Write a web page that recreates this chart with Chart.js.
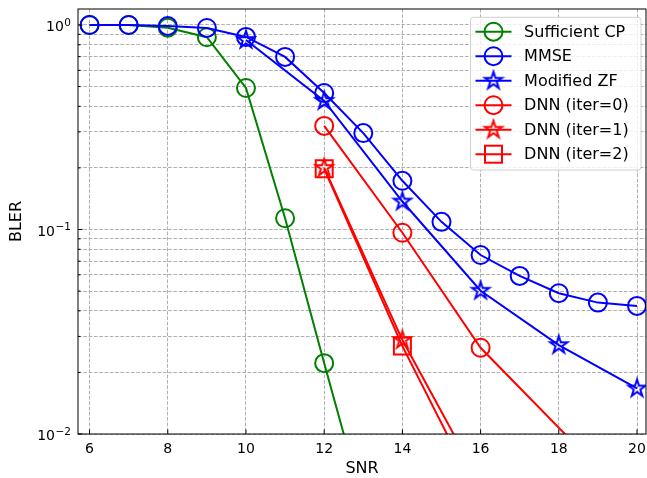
<!DOCTYPE html>
<html>
<head>
<meta charset="utf-8">
<script src="https://cdn.jsdelivr.net/npm/chart.js@4.4.0/dist/chart.umd.min.js"></script>
<style>
	html, body { margin: 0; padding: 0; background: #fff; }
	canvas { display: block; }
</style>
</head>
<body>
<canvas id="bler" width="647" height="478"></canvas>
<script>
// Valeurs : BLER en fonction du SNR
const snrSufficientCP = [6, 7, 8, 9, 10, 11, 12, 13];
const blerSufficientCP = [1.0, 1.0, 0.97, 0.871, 0.492, 0.1135, 0.0222, 0.0045];

const snrMMSE = [6, 7, 8, 9, 10, 11, 12, 13, 14, 15, 16, 17, 18, 19, 20];
const blerMMSE = [1.0, 1.0, 0.989, 0.967, 0.874, 0.698, 0.465, 0.296, 0.173, 0.109, 0.075, 0.0593, 0.0488, 0.0439, 0.0423];

const snrModifiedZF = [10, 12, 14, 16, 18, 20];
const blerModifiedZF = [0.845, 0.425, 0.137, 0.0502, 0.0272, 0.0167];

const snrDNN0 = [12, 14, 16, 20];
const blerDNN0 = [0.321, 0.0964, 0.0264, 0.00436];

const snrDNN = [12, 14, 16];
const blerDNN1 = [0.200, 0.0288, 0.00572];
const blerDNN2 = [0.198, 0.0269, 0.00473];

// Graduations
const xTicks = [6, 8, 10, 12, 14, 16, 18, 20];
const yMajorTicks = [0.01, 0.1, 1];
const yTickExponents = ['\u22122', '\u22121', '0']; // affichés comme 10^exposant

Chart.defaults.font.family = 'DejaVu Sans';
Chart.defaults.font.size = 14;
Chart.defaults.color = '#000';

// Graduations secondaires 2..9 x 10^k
const yTicks = [];
yMajorTicks.forEach((v, i) => {
	yTicks.push({ value: v, major: true });
	if (i < yMajorTicks.length - 1) {
		for (let m = 2; m <= 9; m++) yTicks.push({ value: m * v, major: false });
	}
});

function toPoints(xs, ys) {
	return xs.map((x, i) => ({ x: x, y: ys[i] }));
}

function traceStar(g, cx, cy, R, r) {
	g.beginPath();
	for (let i = 0; i < 10; i++) {
		const a = -Math.PI / 2 + i * Math.PI / 5;
		const rad = i % 2 === 0 ? R : r;
		g.lineTo(cx + rad * Math.cos(a), cy + rad * Math.sin(a));
	}
	g.closePath();
}

// étoile vide façon matplotlib
function makeStar(color) {
	const c = document.createElement('canvas');
	c.width = 24;
	c.height = 24;
	const g = c.getContext('2d');
	traceStar(g, 12, 12, 9, 9 * 0.382);
	g.strokeStyle = color;
	g.lineWidth = 2;
	g.stroke();
	return c;
}

const blueStar = makeStar('#0000ff');
const redStar = makeStar('#ff0000');

function makeDataset(label, xs, ys, color, marker, order) {
	const ds = {
		label: label,
		data: toPoints(xs, ys),
		borderColor: color,
		borderWidth: 2,
		pointBorderColor: color,
		pointBackgroundColor: 'rgba(0,0,0,0)',
		pointBorderWidth: 2,
		pointRadius: 9,
		fill: false,
		tension: 0,
		order: order,
		marker: marker
	};
	if (marker === 'star') ds.pointStyle = color === '#0000ff' ? blueStar : redStar;
	if (marker === 'square') { ds.pointStyle = 'rect'; ds.pointRadius = 12; }
	return ds;
}

// pas de marge automatique autour de la zone de tracé
function noScalePadding(scale) {
	scale.paddingLeft = 0;
	scale.paddingRight = 0;
	scale.paddingTop = 0;
	scale.paddingBottom = 0;
}

// Axes fermés, graduations vers l'intérieur, étiquettes 10^n et légende dans le cadre
const framePlugin = {
	id: 'frame',
	afterDatasetsDraw(chart) {
		const ctx = chart.ctx;
		const a = chart.chartArea;
		const xs = chart.scales.x;
		const ys = chart.scales.y;
		ctx.save();
		ctx.strokeStyle = '#000';
		ctx.lineWidth = 1;
		ctx.beginPath();
		xTicks.forEach((v) => {
			const px = xs.getPixelForValue(v);
			ctx.moveTo(px, a.bottom);
			ctx.lineTo(px, a.bottom - 4.5);
		});
		yTicks.forEach((t) => {
			const py = ys.getPixelForValue(t.value);
			ctx.moveTo(a.left, py);
			ctx.lineTo(a.left + (t.major ? 4.5 : 2.5), py);
		});
		ctx.stroke();
		ctx.strokeRect(a.left, a.top, a.right - a.left, a.bottom - a.top);

		// étiquettes de l'axe y avec exposant
		ctx.fillStyle = '#000';
		ctx.textBaseline = 'alphabetic';
		ctx.textAlign = 'left';
		const right = a.left - 7;
		yMajorTicks.forEach((v, i) => {
			const py = ys.getPixelForValue(v);
			ctx.font = '10.5px "DejaVu Sans"';
			const we = ctx.measureText(yTickExponents[i]).width;
			ctx.fillText(yTickExponents[i], right - we, py + 0.8);
			ctx.font = '14px "DejaVu Sans"';
			const wb = ctx.measureText('10').width;
			ctx.fillText('10', right - we - wb - 0.5, py + 6.3);
		});
		ctx.restore();
	},
	afterDraw(chart) {
		const ctx = chart.ctx;
		const a = chart.chartArea;
		const bx = a.right - 175.5;
		const by = a.top + 8.3;
		ctx.save();
		ctx.beginPath();
		ctx.roundRect(bx, by, 170.5, 152.7, 3);
		ctx.fillStyle = 'rgba(255,255,255,0.8)';
		ctx.fill();
		ctx.strokeStyle = '#d0d0d0';
		ctx.lineWidth = 1;
		ctx.stroke();

		const items = chart.data.datasets;
		items.forEach((ds, i) => {
			const y = by + 14.4 + i * 24.5;
			const x0 = bx + 5;
			const x1 = bx + 41;
			const xm = (x0 + x1) / 2;
			ctx.strokeStyle = ds.borderColor;
			ctx.lineWidth = 2;
			ctx.beginPath();
			ctx.moveTo(x0, y);
			ctx.lineTo(x1, y);
			ctx.stroke();
			if (ds.marker === 'circle') {
				ctx.beginPath();
				ctx.arc(xm, y, 9, 0, Math.PI * 2);
				ctx.stroke();
			} else if (ds.marker === 'square') {
				ctx.strokeRect(xm - 8.5, y - 8.5, 17, 17);
			} else {
				ctx.drawImage(ds.pointStyle, xm - 12, y - 12);
			}
			ctx.fillStyle = '#000';
			ctx.font = '16px "DejaVu Sans"';
			ctx.textAlign = 'left';
			ctx.textBaseline = 'middle';
			ctx.fillText(ds.label, bx + 53.6, y + 1);
		});
		ctx.restore();
	}
};

function createBlerChart() {
	const ctx = document.getElementById('bler');

	new Chart(ctx, {
		type: 'line',
		data: {
			datasets: [
				makeDataset('Sufficient CP', snrSufficientCP, blerSufficientCP, '#008000', 'circle', 5),
				makeDataset('MMSE', snrMMSE, blerMMSE, '#0000ff', 'circle', 4),
				makeDataset('Modified ZF', snrModifiedZF, blerModifiedZF, '#0000ff', 'star', 3),
				makeDataset('DNN (iter=0)', snrDNN0, blerDNN0, '#ff0000', 'circle', 2),
				makeDataset('DNN (iter=1)', snrDNN, blerDNN1, '#ff0000', 'star', 1),
				makeDataset('DNN (iter=2)', snrDNN, blerDNN2, '#ff0000', 'square', 0)
			]
		},
		options: {
			responsive: false,
			animation: false,
			layout: { autoPadding: false, padding: { top: 9, right: 1, left: 0, bottom: 0 } },
			scales: {
				x: {
					type: 'linear',
					min: 5.704,
					max: 20.23,
					afterBuildTicks: (scale) => { scale.ticks = xTicks.map((v) => ({ value: v })); },
					afterFit: (scale) => { scale.height = 44; noScalePadding(scale); },
					ticks: { padding: 7, autoSkip: false, maxRotation: 0 },
					grid: { color: '#b0b0b0', lineWidth: 1, drawTicks: false },
					border: { display: false, dash: [3.7, 1.6] },
					title: { display: true, text: 'SNR', font: { size: 16 }, padding: { top: 0, bottom: 0 } }
				},
				y: {
					type: 'logarithmic',
					min: 0.01,
					max: 1.197,
					afterBuildTicks: (scale) => { scale.ticks = yTicks.map((t) => ({ value: t.value, major: t.major })); },
					afterFit: (scale) => { scale.width = 78; noScalePadding(scale); },
					ticks: { display: false },
					grid: { color: '#b0b0b0', lineWidth: 1, drawTicks: false },
					border: { display: false, dash: [3.7, 1.6] },
					title: { display: true, text: 'BLER', font: { size: 16 }, padding: { top: 7.4, bottom: 0 } }
				}
			},
			plugins: {
				legend: { display: false },
				tooltip: { enabled: false }
			}
		},
		plugins: [framePlugin]
	});
}

createBlerChart();
</script>
</body>
</html>
